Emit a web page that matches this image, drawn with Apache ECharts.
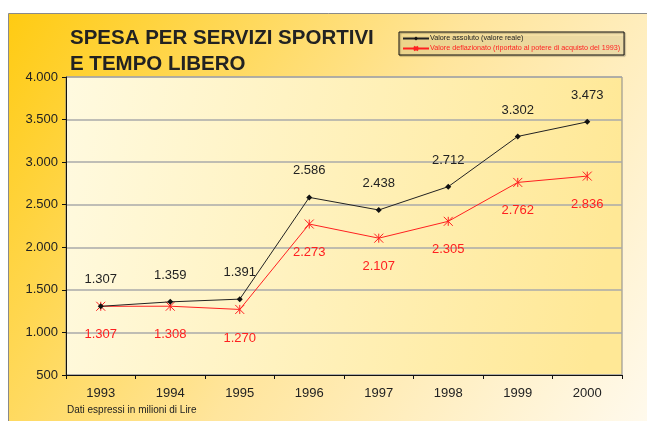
<!DOCTYPE html>
<html>
<head>
<meta charset="utf-8">
<script src="https://cdn.jsdelivr.net/npm/echarts@6/dist/echarts.min.js"></script>
<style>
  html, body { margin: 0; padding: 0; background: #fff; }
  #chart { width: 647px; height: 421px; }
</style>
</head>
<body>
<div id="chart"></div>
<script>
// dati (milioni di Lire)
var anni = ['1993', '1994', '1995', '1996', '1997', '1998', '1999', '2000'];
var valoreAssoluto = [1307, 1359, 1391, 2586, 2438, 2712, 3302, 3473];
var valoreDeflazionato = [1307, 1308, 1270, 2273, 2107, 2305, 2762, 2836];
var nomiSerie = ['Valore assoluto (valore reale)', 'Valore deflazionato (riportato al potere di acquisto del 1993)'];

// formato italiano: 1.307
function fmt(v) {
  return String(v).replace(/\B(?=(\d{3})+(?!\d))/g, '.');
}

var font = '"Liberation Sans", Arial, sans-serif';
var myChart = echarts.init(document.getElementById('chart'));

var option = {
  animation: false,
  textStyle: { fontFamily: font },
  graphic: [{
    type: 'rect',
    z: -10,
    shape: { x: 8.5, y: 13.5, width: 660, height: 420 },
    style: {
      fill: new echarts.graphic.LinearGradient(0, 0, 1, 1, [
        { offset: 0, color: '#FFCB12' },
        { offset: 0.5, color: '#FFE59C' },
        { offset: 1, color: '#FFFBF2' }
      ]),
      stroke: '#8a8a8a',
      lineWidth: 1
    }
  }, {
    type: 'text',
    left: 67,
    top: 405,
    style: { text: 'Dati espressi in milioni di Lire', fill: '#222', font: '10px ' + font }
  }],
  title: {
    text: 'SPESA PER SERVIZI SPORTIVI\nE TEMPO LIBERO',
    left: 65,
    top: 20,
    textStyle: { fontSize: 20.5, fontWeight: 'bold', color: '#222', lineHeight: 26, fontFamily: font }
  },
  legend: {
    left: 399,
    top: 32,
    orient: 'vertical',
    itemWidth: 26,
    itemHeight: 5,
    itemGap: 3,
    padding: [3, 4, 3, 3],
    borderColor: '#111',
    borderWidth: 1,
    shadowColor: 'rgba(0,0,0,0.35)',
    shadowOffsetX: 1,
    shadowOffsetY: 1,
    shadowBlur: 1,
    backgroundColor: 'rgba(255,236,170,0.3)',
    textStyle: { fontSize: 7.2, padding: [0, 0, 0, -4] },
    data: [
      { name: nomiSerie[0], textStyle: { color: '#222' } },
      { name: nomiSerie[1], textStyle: { color: '#ff2020' } }
    ]
  },
  grid: {
    left: 66,
    right: 25,
    top: 77,
    bottom: 46,
    show: true,
    borderColor: '#888',
    borderWidth: 1,
    backgroundColor: new echarts.graphic.LinearGradient(0, 0, 1, 0.3, [
      { offset: 0, color: '#FFFAE0' },
      { offset: 1, color: '#FFE896' }
    ])
  },
  xAxis: {
    type: 'category',
    data: anni,
    axisLine: { lineStyle: { color: '#111', width: 1 } },
    axisTick: { show: true, length: 4, lineStyle: { color: '#111' } },
    axisLabel: { color: '#222', fontSize: 13, margin: 12 }
  },
  yAxis: {
    type: 'value',
    min: 500,
    max: 4000,
    interval: 500,
    axisLine: { show: true, lineStyle: { color: '#111', width: 1 } },
    axisTick: { show: true, length: 4, lineStyle: { color: '#111' } },
    axisLabel: { color: '#222', fontSize: 13, margin: 8, formatter: fmt },
    splitLine: { lineStyle: { color: '#aaa', width: 1.5 } }
  },
  series: [{
    name: nomiSerie[0],
    type: 'line',
    data: valoreAssoluto,
    symbol: 'diamond',
    symbolSize: 6,
    lineStyle: { color: '#222', width: 1 },
    itemStyle: { color: '#111' },
    label: {
      show: true,
      position: 'top',
      distance: 17,
      fontSize: 13,
      color: '#222',
      formatter: function (p) { return fmt(p.value); }
    },
    z: 3
  }, {
    name: nomiSerie[1],
    type: 'line',
    data: valoreDeflazionato,
    symbol: 'path://M0,0L10,10M10,0L0,10M5,0L5,10',
    symbolSize: 9,
    lineStyle: { color: '#ff2020', width: 1 },
    itemStyle: { color: 'transparent', borderColor: '#ff2020', borderWidth: 1 },
    label: {
      show: true,
      position: 'bottom',
      distance: 17,
      fontSize: 13,
      color: '#ff2020',
      formatter: function (p) { return fmt(p.value); }
    },
    z: 2
  }]
};

myChart.setOption(option);
</script>
</body>
</html>
